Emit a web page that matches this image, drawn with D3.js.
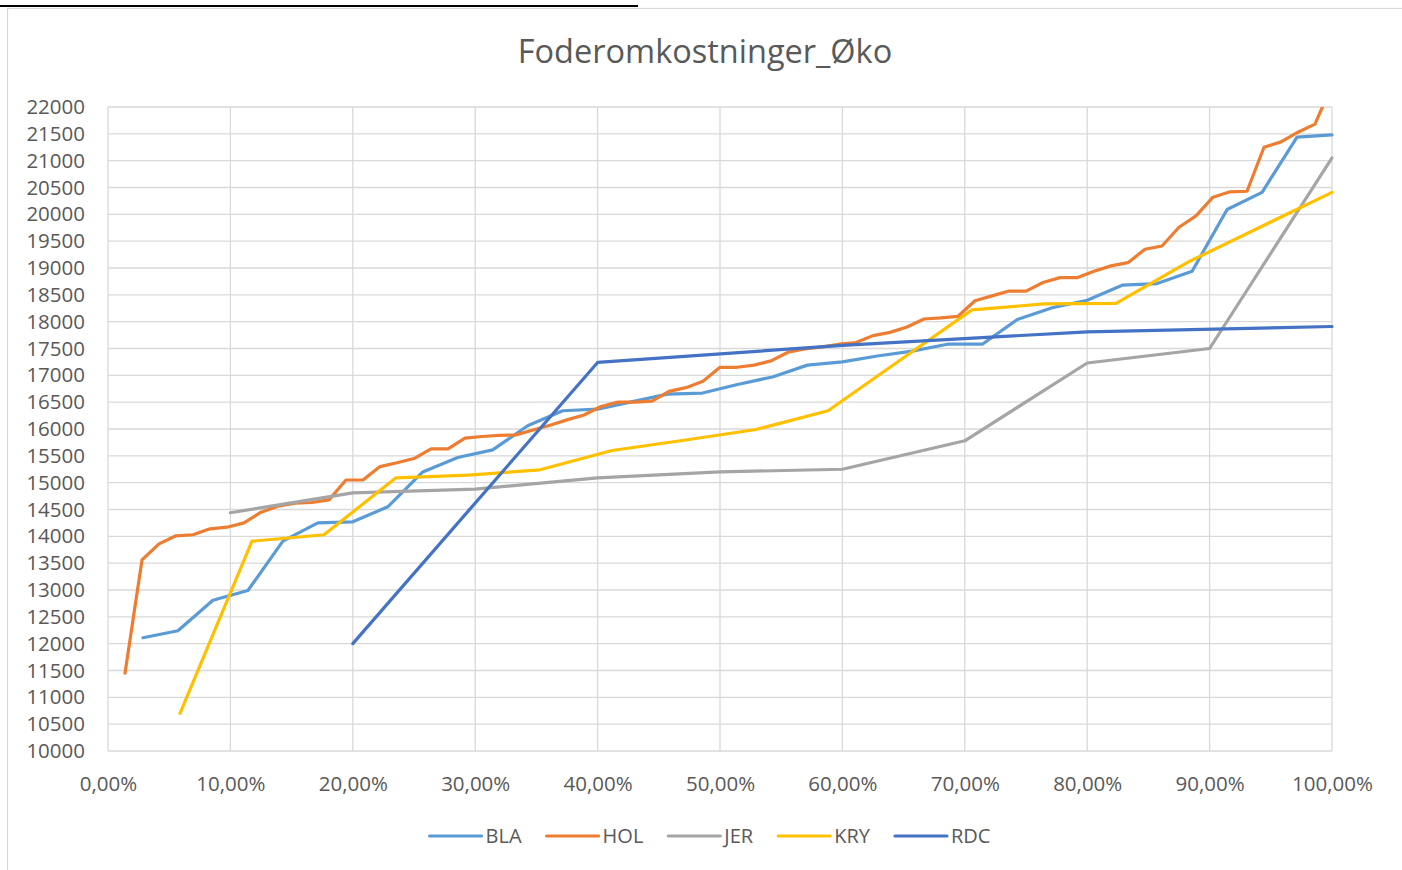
<!DOCTYPE html>
<html>
<head>
<meta charset="utf-8">
<script src="https://cdn.jsdelivr.net/npm/d3@7"></script>
<style>
  body { margin: 0; background: #fff; }
  text { font-family: "Open Sans", "DejaVu Sans", sans-serif; fill: #595959; }
</style>
</head>
<body>
<script>
// values, sorted per breed; x = cumulative share of farms
const seriesNames = ["BLA", "HOL", "JER", "KRY", "RDC"]
const colors = ["#5B9BD5", "#ED7D31", "#A5A5A5", "#FFC000", "#4472C4"]

const bla = [12110, 12240, 12810, 12990, 13910, 14250, 14270, 14550, 15200, 15470,
             15610, 16060, 16340, 16370, 16510, 16650, 16670, 16830, 16970, 17190,
             17250, 17360, 17450, 17580, 17580, 18040, 18260, 18400, 18680, 18710,
             18940, 20090, 20410, 21440, 21480]
const hol = [11450, 13560, 13860, 14010, 14030, 14140, 14170, 14250, 14450, 14560,
             14620, 14630, 14680, 15050, 15050, 15300, 15370, 15450, 15630, 15630,
             15830, 15860, 15880, 15890, 15980, 16070, 16170, 16260, 16420, 16500,
             16500, 16520, 16700, 16770, 16890, 17150, 17150, 17190, 17270, 17430,
             17490, 17530, 17580, 17610, 17740, 17800, 17900, 18050, 18070, 18100,
             18390, 18480, 18570, 18570, 18730, 18820, 18820, 18940, 19040, 19100,
             19350, 19410, 19760, 19970, 20320, 20420, 20430, 21250, 21350, 21530,
             21680, 22410]
const jer = [14440, 14810, 14880, 15090, 15200, 15250, 15780, 17230, 17500, 21050]
const kry = [10700, 13910, 14030, 15090, 15140, 15240, 15600, 15790, 15990, 16340,
             17280, 18220, 18330, 18340, 19110, 19760, 20410]
const rdc = [12000, 17240, 17560, 17810, 17910]

const xTicks = [0, 0.1, 0.2, 0.3, 0.4, 0.5, 0.6, 0.7, 0.8, 0.9, 1]
const yTicks = [10000, 10500, 11000, 11500, 12000, 12500, 13000, 13500, 14000, 14500,
                15000, 15500, 16000, 16500, 17000, 17500, 18000, 18500, 19000, 19500,
                20000, 20500, 21000, 21500, 22000]

const w = 1402
const h = 870
const pLeft = 108, pRight = 1332, pTop = 107, pBottom = 751

const series = [bla, hol, jer, kry, rdc].map((vals, k) => {
    return {
        name: seriesNames[k],
        color: colors[k],
        points: vals.map((v, i) => ({ share: (i + 1) / vals.length, value: v }))
    }
})

const no = d3.formatLocale({ decimal: ",", thousands: " ", grouping: [3], currency: ["", " kr"] })
const pct = no.format(".2%")

const xScale = d3.scaleLinear().domain([0, 1]).range([pLeft, pRight])
const yScale = d3.scaleLinear().domain([10000, 22000]).range([pBottom, pTop])

const svg = d3.select("body")
              .append("svg")
              .attr("width", w)
              .attr("height", h)

// frame
svg.append("rect")
   .attr("x", 7.5).attr("y", 8.5)
   .attr("width", 1410).attr("height", 880)
   .attr("fill", "none")
   .attr("stroke", "#d9d9d9")
   .attr("stroke-width", 1.2)
svg.append("line")
   .attr("x1", 0).attr("x2", 638)
   .attr("y1", 6).attr("y2", 6)
   .attr("stroke", "#000")
   .attr("stroke-width", 2)

svg.append("text")
   .attr("x", 705)
   .attr("y", 63)
   .attr("text-anchor", "middle")
   .style("font-size", "32.5px")
   .text("Foderomkostninger_Øko")

// grid
svg.append("g").selectAll("line")
   .data(yTicks).enter().append("line")
   .attr("x1", pLeft).attr("x2", pRight)
   .attr("y1", d => yScale(d)).attr("y2", d => yScale(d))
   .attr("stroke", "#d9d9d9").attr("stroke-width", 1.3)
svg.append("g").selectAll("line")
   .data(xTicks).enter().append("line")
   .attr("y1", pTop).attr("y2", pBottom)
   .attr("x1", d => xScale(d)).attr("x2", d => xScale(d))
   .attr("stroke", "#d9d9d9").attr("stroke-width", 1.3)

const yAxis = d3.axisLeft(yScale).tickValues(yTicks).tickFormat(d3.format("d"))
                .tickSize(0).tickPadding(23)
const xAxis = d3.axisBottom(xScale).tickValues(xTicks).tickFormat(pct)
                .tickSize(0).tickPadding(25)

svg.append("g")
   .attr("transform", "translate(" + pLeft + ",0)")
   .call(yAxis)
svg.append("g")
   .attr("transform", "translate(0," + pBottom + ")")
   .call(xAxis)
svg.selectAll(".domain").remove()
svg.selectAll(".tick text")
   .attr("fill", "#595959")
   .style("font-size", "20.5px")
   .style("font-family", "'Open Sans', sans-serif")

// lines
svg.append("clipPath").attr("id", "plot")
   .append("rect")
   .attr("x", pLeft - 5).attr("y", pTop)
   .attr("width", pRight - pLeft + 10).attr("height", pBottom - pTop)

const line = d3.line()
               .x(d => xScale(d.share))
               .y(d => yScale(d.value))

svg.append("g")
   .attr("clip-path", "url(#plot)")
   .selectAll("path")
   .data(series).enter().append("path")
   .attr("d", d => line(d.points))
   .attr("fill", "none")
   .attr("stroke", d => d.color)
   .attr("stroke-width", 3.2)
   .attr("stroke-linejoin", "round")
   .attr("stroke-linecap", "round")

// legend
const legend = svg.append("g")
let lx = 0
series.forEach((s) => {
    const item = legend.append("g").attr("transform", "translate(" + lx + ",0)")
    item.append("line")
        .attr("x1", 0).attr("x2", 52)
        .attr("y1", 0).attr("y2", 0)
        .attr("stroke", s.color)
        .attr("stroke-width", 3.2)
        .attr("stroke-linecap", "round")
    const t = item.append("text")
        .attr("x", 56)
        .attr("y", 7)
        .style("font-size", "20px")
        .text(s.name)
    lx += 56 + t.node().getComputedTextLength() + 25
})
const legendWidth = lx - 25
legend.attr("transform", "translate(" + (710 - legendWidth / 2) + ",836)")
</script>
</body>
</html>
